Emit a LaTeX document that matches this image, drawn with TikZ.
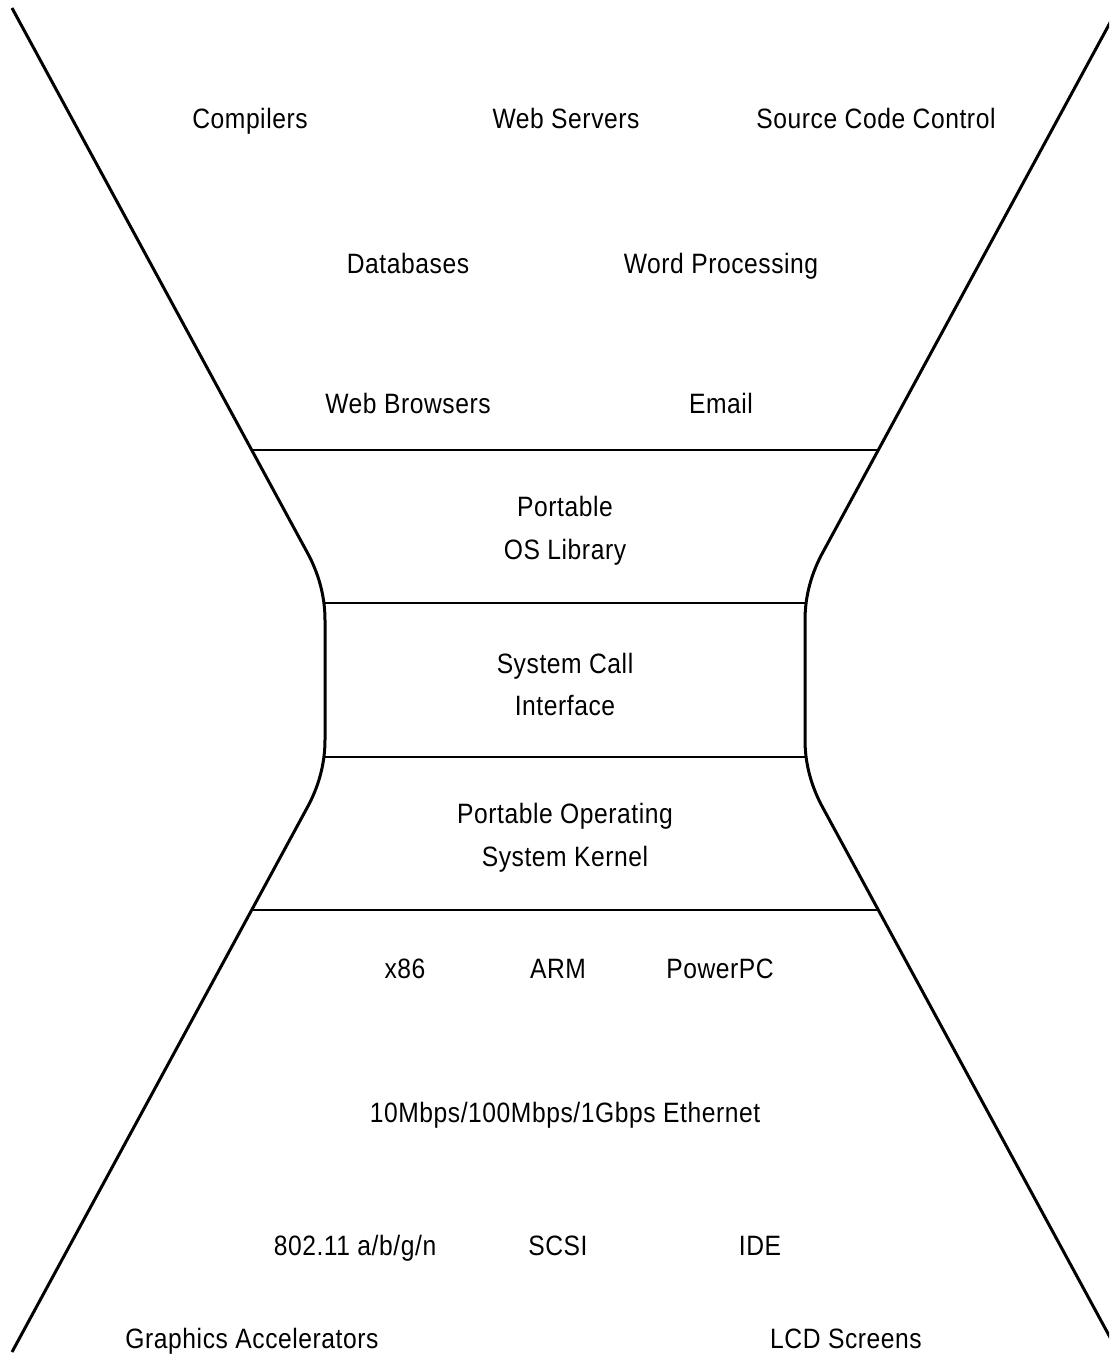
\documentclass[tikz,border=0pt]{standalone}
\usepackage{fontspec}
\setmainfont{Liberation Sans}[FakeStretch=0.88,LetterSpace=2]
\begin{document}
\begin{tikzpicture}[x=1pt,y=-1pt,
  outline/.style={line width=3pt,line join=round},
  divider/.style={line width=1.8pt},
  lbl/.style={inner sep=0pt,text height=20pt,text depth=0pt,
    font=\fontsize{28}{34}\selectfont}]
\useasboundingbox (0,0) rectangle (1109,1355);
\begin{scope}
\clip (0,0) rectangle (1109,1355);
% left side of the hourglass
\draw[outline] (12,8) -- (307,552)
  .. controls (318,572) and (325,595) .. (325,620)
  -- (325,740)
  .. controls (325,765) and (318,788) .. (307,808)
  -- (12,1352);
% right side, mirrored about x = 565
\draw[outline] (1118,8) -- (823,552)
  .. controls (812,572) and (805,595) .. (805,620)
  -- (805,740)
  .. controls (805,765) and (812,788) .. (823,808)
  -- (1118,1352);
\end{scope}
% layer boundaries
\draw[divider] (253,450) -- (877,450);
\draw[divider] (325,603) -- (805,603);
\draw[divider] (325,757) -- (805,757);
\draw[divider] (253,910) -- (877,910);
% applications
\node[lbl] (compilers) at (250,118) {Compilers};
\node[lbl] (websrv) at (566,118) {Web Servers};
\node[lbl] (scc) at (876,118) {Source Code Control};
\node[lbl] (db) at (408,263) {Databases};
\node[lbl] (wp) at (721,263) {Word Processing};
\node[lbl] (browsers) at (408,403) {Web Browsers};
\node[lbl] (email) at (721,403) {Email};
% layers
\node[lbl] (oslib1) at (565,506) {Portable};
\node[lbl] (oslib2) at (565,549) {OS Library};
\node[lbl] (sci1) at (565,663) {System Call};
\node[lbl] (sci2) at (565,705) {Interface};
\node[lbl] (kern1) at (565,813) {Portable Operating};
\node[lbl] (kern2) at (565,856) {System Kernel};
% hardware
\node[lbl] (x86) at (405,968) {x86};
\node[lbl] (arm) at (558,968) {ARM};
\node[lbl] (ppc) at (720,968) {PowerPC};
\node[lbl] (eth) at (565,1112) {10Mbps/100Mbps/1Gbps Ethernet};
\node[lbl] (wifi) at (355,1245) {802.11 a/b/g/n};
\node[lbl] (scsi) at (558,1245) {SCSI};
\node[lbl] (ide) at (760,1245) {IDE};
\node[lbl] (gfx) at (252,1338) {Graphics Accelerators};
\node[lbl] (lcd) at (846,1338) {LCD Screens};
\end{tikzpicture}
\end{document}
